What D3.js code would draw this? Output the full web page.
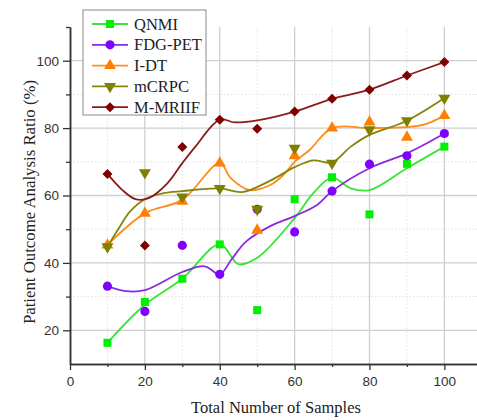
<!DOCTYPE html>
<html>
<head>
<meta charset="utf-8">
<script src="https://cdn.jsdelivr.net/npm/d3@7"></script>
<style>
  body { margin: 0; background: #fff; }
  svg { display: block; }
</style>
</head>
<body>
<div class="visual"></div>
<script>
// data
const samples = [10, 20, 30, 40, 50, 60, 70, 80, 90, 100];
const seriesNames = ["QNMI", "FDG-PET", "I-DT", "mCRPC", "M-MRIIF"];
const qnmi   = [16.3, 28.4, 35.3, 45.5, 26.0, 58.9, 65.4, 54.4, 69.4, 74.5];
const fdgPet = [33.1, 25.6, 45.2, 36.6, 55.9, 49.2, 61.3, 69.3, 71.8, 78.4];
const idt    = [45.3, 54.7, 58.3, 69.6, 49.7, 71.8, 80.0, 81.8, 77.3, 83.7];
const mcrpc  = [44.8, 66.8, 59.6, 62.1, 55.9, 74.0, 69.6, 79.5, 82.2, 88.9];
const mmriif = [66.4, 45.2, 74.4, 82.5, 79.8, 84.9, 88.7, 91.4, 95.6, 99.6];

// smooth fit curves as [x, value]
const qnmiFit   = [[10,16.3],[20,27.6],[30,35.3],[40,45.5],[45,39.6],[50,41.5],[60,53.3],[65,60.7],[70,65.3],[75,62.1],[80,61.6],[90,68.1],[100,74.5]];
const fdgPetFit = [[10,33.1],[15,31.6],[20,31.9],[30,37.3],[36,39.0],[40,36.6],[43,40.8],[47,46.3],[53.5,50.9],[60,53.9],[66,57.2],[70,61.3],[80,68.1],[90,72.5],[100,78.4]];
const idtFit    = [[10,45.3],[20,54.7],[30,58.7],[40,69.6],[43,65.1],[48,61.6],[53.5,63.1],[57,66.1],[60,70],[64,73.5],[70,80],[80,80],[90,80.3],[95,81.2],[100,83.7]];
const mcrpcFit  = [[10,44.8],[13,50.2],[16,55.2],[20,58.9],[25,60.7],[30,61.3],[40,62.1],[46,61],[53.5,64.4],[60,68.4],[65,70.4],[70,69.8],[75,74.5],[80,78],[90,82.2],[100,88.9]];
const mmriifFit = [[10,66.4],[14,61.6],[17.5,58.9],[21,59.2],[26,63.6],[30,69.6],[33.5,74.5],[40,82.5],[44,81.7],[50,82.3],[60,84.9],[70,88.7],[80,91.4],[90,95.6],[100,99.6]];

const xTicks = [0, 20, 40, 60, 80, 100];
const yTicks = [20, 40, 60, 80, 100];

const width = 477, height = 420;

const svg = d3.select(".visual")
  .append("svg")
  .attr("width", width)
  .attr("height", height);

const x = d3.scaleLinear().domain([0, 110]).range([70, 481.8]);
const y = d3.scaleLinear().domain([10, 110]).range([364, 27]);

const series = [
  {name: seriesNames[0], values: qnmi,   fit: qnmiFit,   line: "#33e633", fill: "#00f000", shape: d3.symbolSquare,   size: 64, rot: 0},
  {name: seriesNames[1], values: fdgPet, fit: fdgPetFit, line: "#8a2be2", fill: "#8000ff", shape: d3.symbolCircle,   size: 66, rot: 0},
  {name: seriesNames[2], values: idt,    fit: idtFit,    line: "#ff8c1a", fill: "#ff8000", shape: d3.symbolTriangle, size: 62, rot: 0},
  {name: seriesNames[3], values: mcrpc,  fit: mcrpcFit,  line: "#85850a", fill: "#808000", shape: d3.symbolTriangle, size: 62, rot: 180},
  {name: seriesNames[4], values: mmriif, fit: mmriifFit, line: "#8b1c1c", fill: "#800000", shape: d3.symbolSquare,   size: 50, rot: 45}
];

// grid
const grid = svg.append("g");
d3.range(10, 101, 10).forEach(v => {
  const major = v % 20 == 0;
  grid.append("line")
    .attr("x1", x(v)).attr("x2", x(v))
    .attr("y1", y(110)).attr("y2", y(10))
    .attr("stroke", major ? "#cfcfcf" : "#e0e0e0")
    .attr("stroke-width", major ? 1.3 : 1)
    .attr("stroke-dasharray", major ? null : "1.5,2");
});
d3.range(20, 101, 10).forEach(v => {
  const major = v % 20 == 0;
  grid.append("line")
    .attr("x1", x(0)).attr("x2", width)
    .attr("y1", y(v)).attr("y2", y(v))
    .attr("stroke", major ? "#cfcfcf" : "#e0e0e0")
    .attr("stroke-width", major ? 1.3 : 1)
    .attr("stroke-dasharray", major ? null : "1.5,2");
});

// axes
const xAxis = d3.axisBottom(x).tickValues(xTicks).tickSize(6).tickSizeOuter(0);
const xMinor = d3.axisBottom(x).tickValues(d3.range(10, 110, 20)).tickSize(3).tickFormat("").tickSizeOuter(0);
const yAxis = d3.axisLeft(y).tickValues(yTicks).tickSize(7).tickSizeOuter(0);
const yMinor = d3.axisLeft(y).tickValues([30, 50, 70, 90, 110]).tickSize(4).tickFormat("").tickSizeOuter(0);

function styleAxis(g) {
  g.select(".domain").attr("stroke", "#333").attr("stroke-width", 1.5);
  g.selectAll(".tick line").attr("stroke", "#333").attr("stroke-width", 1.3);
  g.selectAll(".tick text")
    .attr("fill", "#333")
    .style("font-family", "'Liberation Sans', Arial, sans-serif")
    .style("font-size", "13.5px");
}

svg.append("g").attr("transform", "translate(0," + y(10) + ")").call(xMinor).call(styleAxis);
svg.append("g").attr("transform", "translate(0," + y(10) + ")").call(xAxis).call(styleAxis)
  .selectAll(".tick text").attr("dy", "0.95em");
svg.append("g").attr("transform", "translate(" + x(0) + ",0)").call(yMinor).call(styleAxis);
svg.append("g").attr("transform", "translate(" + x(0) + ",0)").call(yAxis).call(styleAxis)
  .selectAll(".tick text").attr("x", -11);

// titles
svg.append("text")
  .attr("x", 276).attr("y", 413)
  .attr("text-anchor", "middle")
  .style("font-family", "'Liberation Serif', 'Times New Roman', serif")
  .style("font-size", "16.5px")
  .attr("fill", "#222")
  .text("Total Number of Samples");

svg.append("text")
  .attr("transform", "rotate(-90)")
  .attr("x", -202).attr("y", 35)
  .attr("text-anchor", "middle")
  .style("font-family", "'Liberation Serif', 'Times New Roman', serif")
  .style("font-size", "16.8px")
  .attr("fill", "#222")
  .text("Patient Outcome Analysis Ratio (%)");

// lines and markers
const lineGen = d3.line()
  .x(d => x(d[0]))
  .y(d => y(d[1]))
  .curve(d3.curveCatmullRom.alpha(0.5));

series.forEach(s => {
  svg.append("path")
    .datum(s.fit)
    .attr("d", lineGen)
    .attr("fill", "none")
    .attr("stroke", s.line)
    .attr("stroke-width", 1.8);
  svg.selectAll(null)
    .data(s.values)
    .enter()
    .append("path")
    .attr("d", d3.symbol().type(s.shape).size(s.size))
    .attr("transform", (d, i) => "translate(" + x(samples[i]) + "," + y(d) + ") rotate(" + s.rot + ")")
    .attr("fill", s.fill);
});

// legend
const legend = svg.append("g").attr("transform", "translate(83,10)");
legend.append("rect")
  .attr("x", 0).attr("y", 0)
  .attr("width", 123).attr("height", 105)
  .attr("fill", "#fff")
  .attr("stroke", "#8a8a8a")
  .attr("stroke-width", 1);

const item = legend.selectAll(".legend")
  .data(series)
  .enter()
  .append("g")
  .attr("class", "legend")
  .attr("transform", (d, i) => "translate(0," + (14 + i * 20.8) + ")");
item.append("line")
  .attr("x1", 9).attr("x2", 45)
  .attr("stroke", d => d.line)
  .attr("stroke-width", 1.8);
item.append("path")
  .attr("d", d => d3.symbol().type(d.shape).size(d.size)())
  .attr("transform", d => "translate(27,0) rotate(" + d.rot + ")")
  .attr("fill", d => d.fill);
item.append("text")
  .attr("x", 51).attr("y", 5.5)
  .style("font-family", "'Liberation Serif', 'Times New Roman', serif")
  .style("font-size", "16.5px")
  .attr("fill", "#222")
  .text(d => d.name);
</script>
</body>
</html>
